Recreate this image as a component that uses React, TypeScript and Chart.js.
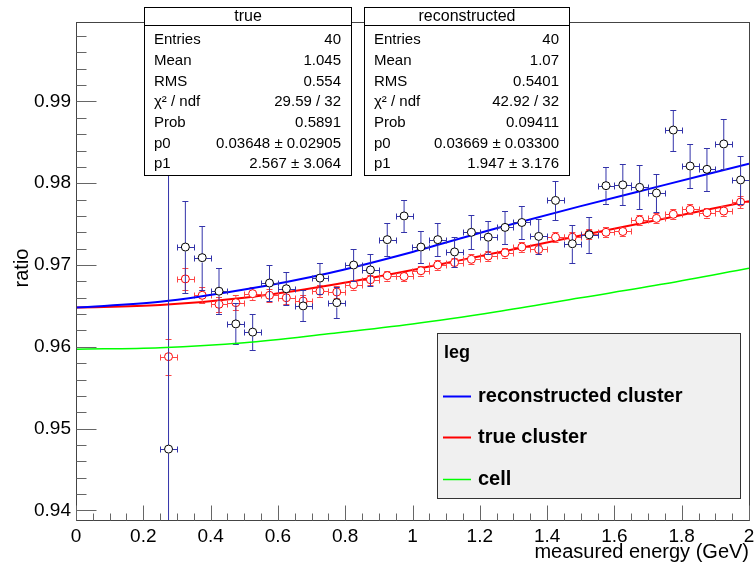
import React, { useEffect, useRef } from "react";
import { Chart, registerables } from "chart.js";

Chart.register(...registerables);

// ---------- data ----------
const binCenters = [
  0.275, 0.325, 0.375, 0.425, 0.475, 0.525, 0.575, 0.625, 0.675, 0.725,
  0.775, 0.825, 0.875, 0.925, 0.975, 1.025, 1.075, 1.125, 1.175, 1.225,
  1.275, 1.325, 1.375, 1.425, 1.475, 1.525, 1.575, 1.625, 1.675, 1.725,
  1.775, 1.825, 1.875, 1.925, 1.975,
];
const binHalfWidth = 0.025;

const recoValues = [
  0.9475, 0.9722, 0.9709, 0.9668, 0.9628, 0.9618, 0.9678, 0.9671, 0.965, 0.9684,
  0.9654, 0.97, 0.9694, 0.9731, 0.976, 0.9722, 0.9731, 0.9716, 0.974, 0.9734,
  0.9746, 0.9752, 0.9735, 0.9779, 0.9726, 0.9737, 0.9797, 0.9798, 0.9795, 0.9788,
  0.9865, 0.9821, 0.9817, 0.9848, 0.9804,
];
const recoErrors = [
  0.045, 0.0056, 0.0039, 0.0028, 0.0025, 0.0022, 0.0022, 0.002, 0.0019, 0.0019,
  0.0019, 0.002, 0.002, 0.002, 0.002, 0.002, 0.002, 0.0018, 0.0021, 0.002,
  0.002, 0.002, 0.0021, 0.0024, 0.0023, 0.0022, 0.0023, 0.0025, 0.0027, 0.0023,
  0.0025, 0.0027, 0.0026, 0.003, 0.0029,
];
const trueValues = [
  0.9588, 0.9683, 0.9663, 0.9652, 0.9654, 0.9665, 0.9663, 0.966, 0.9656, 0.9668,
  0.9667, 0.9676, 0.9682, 0.9687, 0.9686, 0.9693, 0.97, 0.9703, 0.9707, 0.9711,
  0.9715, 0.9722, 0.9719, 0.9734, 0.9734, 0.9738, 0.974, 0.9741, 0.9755, 0.9757,
  0.9762, 0.9768, 0.9764, 0.9766, 0.9777,
];
const trueErrors = [
  0.0022, 0.0013, 0.001, 0.0009, 0.0009, 0.0008, 0.0008, 0.0008, 0.0007, 0.0007,
  0.0007, 0.0006, 0.0006, 0.0006, 0.0006, 0.0006, 0.0006, 0.0006, 0.0006, 0.0006,
  0.0006, 0.0006, 0.0006, 0.0006, 0.0006, 0.0006, 0.0006, 0.0006, 0.0006, 0.0006,
  0.0006, 0.0006, 0.0006, 0.0006, 0.0007,
];

const fitX = [0, 0.25, 0.5, 0.75, 1.0, 1.25, 1.5, 1.75, 2.0];
const recoFit = [0.9648, 0.9655, 0.967, 0.969, 0.9716, 0.9745, 0.9772, 0.9798, 0.9824];
const trueFit = [0.9648, 0.9651, 0.966, 0.9675, 0.9694, 0.9715, 0.9736, 0.9757, 0.9778];
const cellFit = [0.9597, 0.9599, 0.9605, 0.9616, 0.9628, 0.9643, 0.966, 0.9677, 0.9696];

const xRange = [0, 2];
const yRange = [0.93883, 0.99971];
const xTickValues = [0, 0.2, 0.4, 0.6, 0.8, 1, 1.2, 1.4, 1.6, 1.8, 2];
const yTickValues = [0.94, 0.95, 0.96, 0.97, 0.98, 0.99];
const xMinorStep = 0.05;
const yMinorStep = 0.002;

const xTitle = "measured energy (GeV)";
const yTitle = "ratio";

const statRowLabels = ["Entries", "Mean", "RMS", "χ² / ndf", "Prob", "p0", "p1"];
const trueStatTitle = "true";
const trueStatValues = ["40", "1.045", "0.554", "29.59 / 32", "0.5891", "0.03648 ± 0.02905", "2.567 ± 3.064"];
const recoStatTitle = "reconstructed";
const recoStatValues = ["40", "1.07", "0.5401", "42.92 / 32", "0.09411", "0.03669 ± 0.03300", "1.947 ± 3.176"];

const legendTitle = "leg";
const legendLabels = ["reconstructed cluster", "true cluster", "cell"];

// ---------- styling ----------
const FONT = "'Liberation Sans', Arial, Helvetica, sans-serif";
const COL_BLUE = "#0000ff";
const COL_RED = "#ff0000";
const COL_GREEN = "#00ff00";

const errorBarPlugin = {
  id: "errorBars",
  beforeDatasetDraw(chart: any, args: any) {
    const ds = chart.data.datasets[args.index];
    if (!ds.errY) return;
    const { ctx, chartArea } = chart;
    const xs = chart.scales.x;
    const ys = chart.scales.y;
    ctx.save();
    ctx.beginPath();
    ctx.rect(chartArea.left, chartArea.top, chartArea.right - chartArea.left, chartArea.bottom - chartArea.top);
    ctx.clip();
    ctx.strokeStyle = ds.errColor;
    ctx.lineWidth = 1;
    const r = ds.pointRadius;
    const cap = 3;
    const seg = (a: number, b: number, c: number, d: number) => {
      ctx.beginPath();
      ctx.moveTo(a, b);
      ctx.lineTo(c, d);
      ctx.stroke();
    };
    ds.data.forEach((p: any, i: number) => {
      const px = xs.getPixelForValue(p.x);
      const py = Math.round(ys.getPixelForValue(p.y)) + 0.5;
      const e = ds.errY[i];
      const yt = Math.round(ys.getPixelForValue(p.y + e)) + 0.5;
      const yb = Math.round(ys.getPixelForValue(p.y - e)) + 0.5;
      const xl = Math.round(xs.getPixelForValue(p.x - ds.errX)) + 0.5;
      const xr = Math.round(xs.getPixelForValue(p.x + ds.errX)) + 0.5;
      if (yt < py - r) seg(px, yt, px, py - r);
      if (yb > py + r) seg(px, py + r, px, yb);
      seg(px - cap, yt, px + cap, yt);
      seg(px - cap, yb, px + cap, yb);
      seg(xl, py, px - r, py);
      seg(px + r, py, xr, py);
      seg(xl, py - cap, xl, py + cap);
      seg(xr, py - cap, xr, py + cap);
    });
    ctx.restore();
  },
};

const decorPlugin = {
  id: "decor",
  afterDraw(chart: any) {
    const { ctx, chartArea } = chart;
    const xs = chart.scales.x;
    const ys = chart.scales.y;
    const L = Math.round(chartArea.left) + 0.5;
    const R = Math.round(chartArea.right) + 0.5;
    const T = Math.round(chartArea.top) + 0.5;
    const B = Math.round(chartArea.bottom) + 0.5;
    ctx.save();
    // frame
    ctx.strokeStyle = "#444";
    ctx.lineWidth = 1;
    ctx.strokeRect(L, T, R - L, B - T);
    // ticks
    ctx.strokeStyle = "#666";
    const line = (a: number, b: number, c: number, d: number) => {
      ctx.beginPath();
      ctx.moveTo(a, b);
      ctx.lineTo(c, d);
      ctx.stroke();
    };
    const xMajor = 15, xMinor = 7;
    const nx = Math.round((xRange[1] - xRange[0]) / xMinorStep);
    for (let i = 0; i <= nx; i++) {
      const v = xRange[0] + i * xMinorStep;
      const isMajor = xTickValues.some((t) => Math.abs(t - v) < 1e-6);
      const px = Math.round(xs.getPixelForValue(v)) + 0.5;
      line(px, B, px, B - (isMajor ? xMajor : xMinor));
    }
    const yMajor = 20, yMinor = 10;
    const y0 = Math.ceil(yRange[0] / yMinorStep - 1e-6) * yMinorStep;
    for (let v = y0; v <= yRange[1] + 1e-9; v += yMinorStep) {
      const isMajor = yTickValues.some((t) => Math.abs(t - v) < 1e-6);
      const py = Math.round(ys.getPixelForValue(v)) + 0.5;
      line(L, py, L + (isMajor ? yMajor : yMinor), py);
    }
    // axis titles
    ctx.fillStyle = "#000";
    ctx.font = `20px ${FONT}`;
    ctx.textAlign = "right";
    ctx.textBaseline = "middle";
    ctx.fillText(xTitle, chartArea.right, 552);
    ctx.save();
    ctx.translate(22, 268);
    ctx.rotate(-Math.PI / 2);
    ctx.textAlign = "center";
    ctx.fillText(yTitle, 0, 0);
    ctx.restore();

    // stat boxes
    const drawStat = (left: number, right: number, title: string, values: string[]) => {
      const top = 7.5, sep = 25.5, bottom = 175.5;
      ctx.fillStyle = "#fff";
      ctx.fillRect(left, top, right - left, bottom - top);
      ctx.strokeStyle = "#000";
      ctx.lineWidth = 1;
      ctx.strokeRect(left, top, right - left, bottom - top);
      line(left, sep, right, sep);
      ctx.fillStyle = "#000";
      ctx.font = `16px ${FONT}`;
      ctx.textAlign = "center";
      ctx.textBaseline = "middle";
      ctx.fillText(title, (left + right) / 2, 16.5);
      ctx.font = `15px ${FONT}`;
      statRowLabels.forEach((lab, i) => {
        const yy = 40 + i * 20.7;
        ctx.textAlign = "left";
        ctx.fillText(lab, left + 9.5, yy);
        ctx.textAlign = "right";
        ctx.fillText(values[i], right - 10.5, yy);
      });
    };
    drawStat(144.5, 351.5, trueStatTitle, trueStatValues);
    drawStat(364.5, 569.5, recoStatTitle, recoStatValues);

    // legend
    const lx0 = 437.5, lx1 = 740.5, ly0 = 333.5, ly1 = 498.5;
    ctx.fillStyle = "#f0f0f0";
    ctx.fillRect(lx0, ly0, lx1 - lx0, ly1 - ly0);
    ctx.strokeStyle = "#333";
    ctx.strokeRect(lx0, ly0, lx1 - lx0, ly1 - ly0);
    ctx.fillStyle = "#000";
    ctx.font = `bold 18px ${FONT}`;
    ctx.textAlign = "left";
    ctx.textBaseline = "middle";
    ctx.fillText(legendTitle, 444, 353);
    const rowsY = [396, 437, 479];
    legendLabels.forEach((lab, i) => {
      const ds = chart.data.datasets.find((d: any) => d.label === lab);
      ctx.strokeStyle = ds ? ds.borderColor : "#000";
      ctx.lineWidth = ds ? ds.borderWidth : 1;
      line(443, rowsY[i] + 0.5, 471, rowsY[i] + 0.5);
      ctx.fillStyle = "#000";
      ctx.font = `bold 20px ${FONT}`;
      ctx.fillText(lab, 478, rowsY[i]);
    });
    ctx.restore();
  },
};

export default function App() {
  const canvasRef = useRef<HTMLCanvasElement | null>(null);

  useEffect(() => {
    if (!canvasRef.current) return;
    const pts = (xsArr: number[], ysArr: number[]) => xsArr.map((x, i) => ({ x, y: ysArr[i] }));
    const chart = new Chart(canvasRef.current, {
      type: "scatter",
      data: {
        datasets: [
          {
            label: legendLabels[1],
            data: pts(fitX, trueFit),
            showLine: true,
            borderColor: COL_RED,
            borderWidth: 2,
            pointRadius: 0,
            cubicInterpolationMode: "monotone",
            order: 6,
          } as any,
          {
            label: "true points",
            data: pts(binCenters, trueValues),
            errY: trueErrors,
            errX: binHalfWidth,
            errColor: "#ff4444",
            pointRadius: 4,
            pointBorderWidth: 1,
            pointBackgroundColor: "#ffffff",
            pointBorderColor: COL_RED,
            order: 5,
          } as any,
          {
            label: legendLabels[0],
            data: pts(fitX, recoFit),
            showLine: true,
            borderColor: COL_BLUE,
            borderWidth: 2,
            pointRadius: 0,
            cubicInterpolationMode: "monotone",
            order: 4,
          } as any,
          {
            label: "reconstructed points",
            data: pts(binCenters, recoValues),
            errY: recoErrors,
            errX: binHalfWidth,
            errColor: "#3333aa",
            pointRadius: 4,
            pointBorderWidth: 1,
            pointBackgroundColor: "#ffffff",
            pointBorderColor: "#000000",
            order: 3,
          } as any,
          {
            label: legendLabels[2],
            data: pts(fitX, cellFit),
            showLine: true,
            borderColor: COL_GREEN,
            borderWidth: 1.5,
            pointRadius: 0,
            cubicInterpolationMode: "monotone",
            order: 2,
          } as any,
        ],
      },
      options: {
        animation: false,
        responsive: false,
        devicePixelRatio: 1,
        layout: { padding: { top: 22, right: 4, left: 0, bottom: 0 } },
        plugins: {
          legend: { display: false },
          tooltip: { enabled: false },
        },
        elements: { point: { hoverRadius: 4 } },
        scales: {
          x: {
            type: "linear",
            min: xRange[0],
            max: xRange[1],
            afterBuildTicks: (s: any) => {
              s.ticks = xTickValues.map((v) => ({ value: v }));
            },
            afterFit: (s: any) => {
              s.height = 46;
              s.paddingLeft = 0;
              s.paddingRight = 0;
              s.paddingTop = 0;
              s.paddingBottom = 0;
            },
            grid: { display: false, drawTicks: false },
            border: { display: false },
            ticks: {
              padding: 5,
              color: "#000",
              maxRotation: 0,
              autoSkip: false,
              font: { family: FONT, size: 19 },
              callback: (v: any) => String(Number(Number(v).toFixed(2))),
            },
          },
          y: {
            type: "linear",
            min: yRange[0],
            max: yRange[1],
            afterBuildTicks: (s: any) => {
              s.ticks = yTickValues.map((v) => ({ value: v }));
            },
            afterFit: (s: any) => {
              s.width = 76;
              s.paddingLeft = 0;
              s.paddingRight = 0;
              s.paddingTop = 0;
              s.paddingBottom = 0;
            },
            grid: { display: false, drawTicks: false },
            border: { display: false },
            ticks: {
              padding: 5,
              color: "#000",
              autoSkip: false,
              font: { family: FONT, size: 19 },
              callback: (v: any) => Number(v).toFixed(2),
            },
          },
        },
      } as any,
      plugins: [errorBarPlugin, decorPlugin],
    });
    return () => chart.destroy();
  }, []);

  return (
    <div style={{ position: "absolute", left: 0, top: 0, width: 754, height: 566, background: "#fff" }}>
      <canvas ref={canvasRef} width={754} height={566} />
    </div>
  );
}
